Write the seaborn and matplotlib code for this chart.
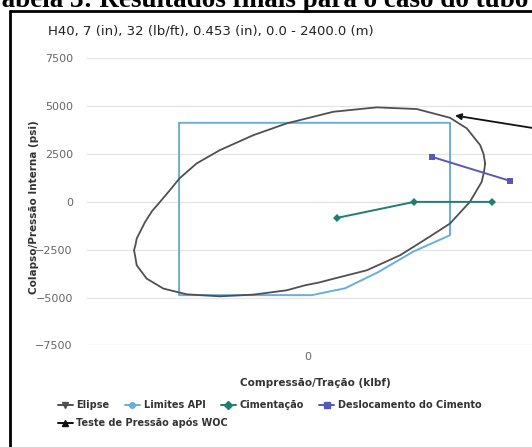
import matplotlib
matplotlib.use('Agg')
import pandas as pd
import matplotlib.pyplot as plt
from matplotlib.lines import Line2D
import seaborn as sns

############################
# DATA
############################

titulo = 'H40, 7 (in), 32 (lb/ft), 0.453 (in), 0.0 - 2400.0 (m)'
cabecalho = 'Tabela 3: Resultados finais para o caso do tubo'

# elipse (klbf, psi)
elipse_x = [464, 460, 451, 416, 372, 285, 180, 66, -21, -56, -143, -231, -292,
            -337, -362, -388, -409, -427, -449, -452, -456, -453, -449, -423,
            -379, -318, -231, -143, -56, -8, 31, 66, 154, 241, 311, 372, 424,
            455, 461, 464]
elipse_y = [2008, 2495, 2965, 3839, 4393, 4848, 4937, 4707, 4273, 4100, 3488,
            2704, 2008, 1224, 612, 0, -486, -1046, -1914, -2228, -2526, -2840,
            -3311, -4006, -4529, -4827, -4932, -4843, -4618, -4357, -4200,
            -4017, -3572, -2788, -1914, -1130, 0, 1046, 1553, 2008]

# limites API
api_x = [-338, 372, 372, 275, 183, 97, 10, -338, -338]
api_y = [4130, 4130, -1740, -2605, -3677, -4513, -4870, -4870, 4130]

# cimentacao
cim_x = [75, 278, 483]
cim_y = [-840, 0, 0]

# deslocamento do cimento
desl_x = [324, 529]
desl_y = [2355, 1100]

# teste de pressao apos WOC
teste_x = [385, 820]
teste_y = [4510, 3120]

cores = {'Elipse': '#505050', 'Limites API': '#6aaedb',
         'Cimentação': '#1e7f70', 'Deslocamento do Cimento': '#5858b8',
         'Teste de Pressão após WOC': '#111111'}

############################
# PLOT
############################

sns.set_theme(style='white')
plt.rcParams['font.family'] = ['DejaVu Sans']

fig = plt.figure(figsize=(5.32, 4.47), dpi=100)
ax = fig.add_axes([0.163, 0.2271, 0.8615, 0.6425])

elipse = pd.DataFrame({'x': elipse_x, 'y': elipse_y})
api = pd.DataFrame({'x': api_x, 'y': api_y})
cim = pd.DataFrame({'x': cim_x, 'y': cim_y})
desl = pd.DataFrame({'x': desl_x, 'y': desl_y})

sns.lineplot(data=api, x='x', y='y', sort=False, estimator=None, ax=ax,
             color=cores['Limites API'], lw=1.4)
sns.lineplot(data=elipse, x='x', y='y', sort=False, estimator=None, ax=ax,
             color=cores['Elipse'], lw=1.3)
sns.lineplot(data=cim, x='x', y='y', sort=False, estimator=None, ax=ax,
             color=cores['Cimentação'], lw=1.4, marker='D', markersize=4,
             markeredgewidth=0)
sns.lineplot(data=desl, x='x', y='y', sort=False, estimator=None, ax=ax,
             color=cores['Deslocamento do Cimento'], lw=1.4, marker='s',
             markersize=5, markeredgewidth=0)
ax.annotate('', xy=(teste_x[0], teste_y[0]), xytext=(teste_x[1], teste_y[1]),
            arrowprops=dict(arrowstyle='-|>', color=cores['Teste de Pressão após WOC'],
                            lw=1.3, mutation_scale=9, shrinkA=0, shrinkB=0))

ax.set_xlim(-580, 621)
ax.set_ylim(-7500, 7500)
ax.set_yticks([-7500, -5000, -2500, 0, 2500, 5000, 7500])
ax.set_xticks([0])
ax.grid(axis='y', color='#e6e6e6', lw=1)
ax.grid(axis='x', visible=False)
for s in ax.spines.values():
    s.set_visible(False)
ax.tick_params(axis='y', length=0, pad=10, labelsize=8, labelcolor='#666666')
ax.tick_params(axis='x', length=0, pad=5, labelsize=8, labelcolor='#666666')
ax.set_xlabel('Compressão/Tração (klbf)', fontsize=7.5, fontweight='bold',
              color='#333333', labelpad=11)
ax.set_ylabel('Colapso/Pressão Interna (psi)', fontsize=7.5, fontweight='bold',
              color='#333333')
ax.yaxis.set_label_coords(-0.105, 0.482)

fig.text(48 / 532, 1 - 31 / 447, titulo, va='center', ha='left', fontsize=9.5,
         color='#222222')
fig.text(-14 / 532, 1 - 7 / 447, cabecalho, va='baseline', ha='left',
         fontsize=19.5, fontweight='bold', family='Liberation Serif', color='black')

# moldura do print
fig.add_artist(Line2D([10 / 532, 10 / 532], [0, 1 - 11 / 447],
                      transform=fig.transFigure, color='black', lw=2))
fig.add_artist(Line2D([10 / 532, 1], [1 - 11 / 447, 1 - 11 / 447],
                      transform=fig.transFigure, color='black', lw=2))

# legenda
marcadores = {'Elipse': 'v', 'Limites API': 'o', 'Cimentação': 'D',
              'Deslocamento do Cimento': 's', 'Teste de Pressão após WOC': '^'}
handles = [Line2D([], [], color=cores[k], marker=m, markersize=4, lw=1.4)
           for k, m in marcadores.items()]
labels = list(marcadores.keys())
prop = {'weight': 'bold', 'size': 7}
leg1 = fig.legend(handles[:4], labels[:4], ncol=4, loc='upper left',
                  bbox_to_anchor=(58 / 532, 1 - 400 / 447), frameon=False,
                  prop=prop, labelcolor='#333333', handlelength=1.5,
                  handletextpad=0.4, columnspacing=1.6, borderpad=0,
                  borderaxespad=0, numpoints=1)
leg2 = fig.legend(handles[4:], labels[4:], loc='upper left',
                  bbox_to_anchor=(58 / 532, 1 - 418 / 447), frameon=False,
                  prop=prop, labelcolor='#333333', handlelength=1.5,
                  handletextpad=0.4, borderpad=0, borderaxespad=0, numpoints=1)

fig.savefig('out.png', dpi=100)
